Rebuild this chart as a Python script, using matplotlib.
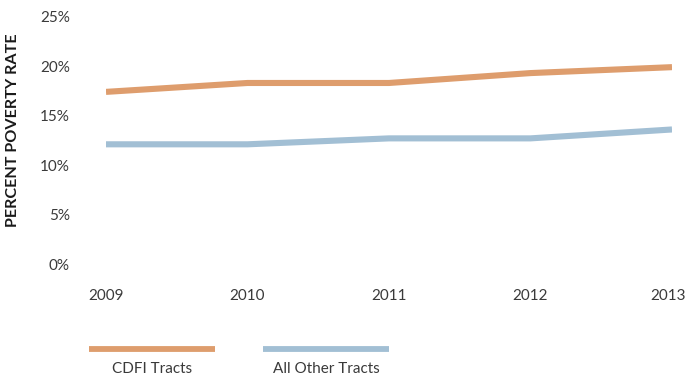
import matplotlib
matplotlib.use("Agg")
import matplotlib.pyplot as plt
import matplotlib.transforms as mtransforms
from matplotlib.lines import Line2D

# poverty rate by year, percent
years = [2009, 2010, 2011, 2012, 2013]
cdfi_tracts = [17.4, 18.3, 18.3, 19.3, 19.9]
other_tracts = [12.1, 12.1, 12.7, 12.7, 13.6]
series_names = ["CDFI Tracts", "All Other Tracts"]
yticks = [0, 5, 10, 15, 20, 25]

orange = "#DE9D6D"
blue = "#A2BFD4"
text_col = "#3a3a3a"

plt.rcParams["font.family"] = ["Lato", "DejaVu Sans"]

fig = plt.figure(figsize=(6.88, 3.78), dpi=100)
ax = fig.add_axes([106 / 688, 1 - 264 / 378, (672 - 106) / 688, (264 - 16.7) / 378])

ax.plot(years, cdfi_tracts, color=orange, lw=4.4, solid_capstyle="butt")
ax.plot(years, other_tracts, color=blue, lw=4.4, solid_capstyle="butt")

ax.set_xlim(2009, 2013)
ax.set_ylim(0, 25)
ax.set_xticks(years)
ax.set_xticklabels([str(y) for y in years])
ax.set_yticks(yticks)
ax.set_yticklabels([f"{t}%" for t in yticks])
ax.tick_params(axis="both", length=0, labelsize=11, colors=text_col)
ax.tick_params(axis="y", pad=26)
ax.tick_params(axis="x", pad=18)
for s in ax.spines.values():
    s.set_visible(False)

# keep the last year label inside the figure edge
last = ax.get_xticklabels()[-1]
last.set_transform(last.get_transform() +
                   mtransforms.ScaledTranslation(-4 / 100, 0, fig.dpi_scale_trans))

fig.text(13 / 688, 1 - 130 / 378, "PERCENT POVERTY RATE", rotation=90,
         ha="center", va="center", fontsize=11.6, fontweight="bold", color="#1a1a1a")

# legend: swatch line with its name centred underneath
legend_x = [(89, 215), (263, 389)]
for (x0, x1), name, col in zip(legend_x, series_names, [orange, blue]):
    fig.add_artist(Line2D([x0 / 688, x1 / 688], [1 - 349 / 378] * 2,
                          color=col, lw=4.2, solid_capstyle="butt"))
    fig.text((x0 + x1) / 2 / 688, 1 - 369 / 378, name, ha="center", va="center",
             fontsize=11, color=text_col)

fig.savefig("out.png", dpi=100)
